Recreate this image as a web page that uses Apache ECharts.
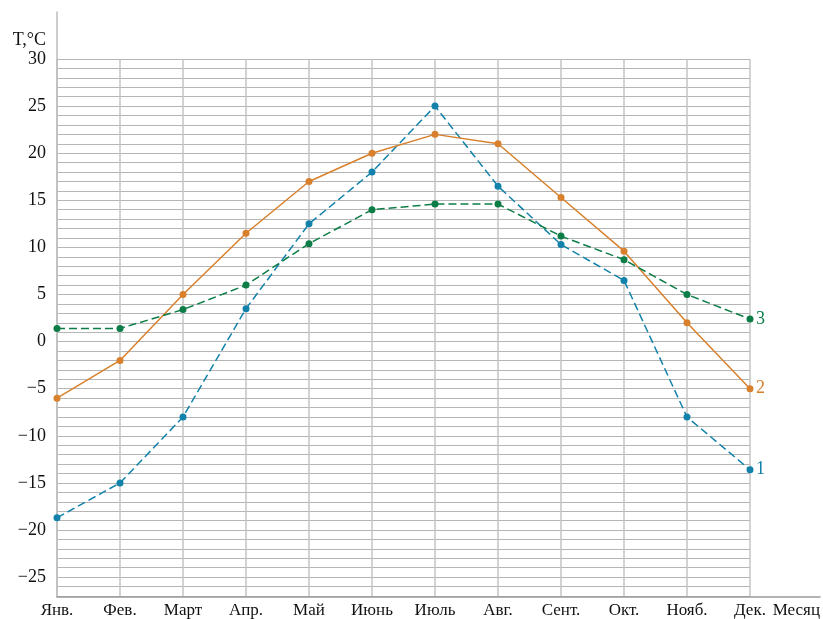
<!DOCTYPE html>
<html>
<head>
<meta charset="utf-8">
<script src="https://cdn.jsdelivr.net/npm/echarts@6/dist/echarts.min.js"></script>
<style>
  html, body { margin: 0; padding: 0; background: #fff; }
  #chart { width: 823px; height: 619px; }
</style>
</head>
<body>
<div id="chart"></div>
<script>
const months = ['Янв.', 'Фев.', 'Март', 'Апр.', 'Май', 'Июнь', 'Июль', 'Авг.', 'Сент.', 'Окт.', 'Нояб.', 'Дек.']
const series1 = [-18.7, -15, -8, 3.5, 12.5, 18, 25, 16.5, 10.3, 6.5, -8, -13.6]
const series2 = [-6, -2, 5, 11.5, 17, 20, 22, 21, 15.3, 9.6, 2, -5]
const series3 = [1.4, 1.4, 3.4, 6, 10.4, 14, 14.6, 14.6, 11.2, 8.7, 5, 2.4]
const seriesNames = ['1', '2', '3']
const yMin = -27
const yMax = 30

const font = 'Liberation Serif'
const gridColor = '#b5b5b5'

const chart = echarts.init(document.getElementById('chart'))

const makeLine = (name, data, color, dashed) => ({
  name,
  type: 'line',
  xAxisIndex: 0,
  yAxisIndex: 0,
  data: data.map((v, i) => [i, v]),
  symbol: 'circle',
  symbolSize: 7,
  itemStyle: { color },
  lineStyle: { color, width: 1.5, type: dashed ? [8, 4] : 'solid' },
  endLabel: {
    show: true,
    formatter: name,
    color,
    fontFamily: font,
    fontSize: 18,
    distance: 6,
    padding: [4, 0, 0, 0]
  },
  animation: false,
  z: 5
})

const option = {
  backgroundColor: '#fff',
  textStyle: { fontFamily: font },
  grid: [
    { left: 57, right: 73, top: 59, bottom: 19 },
    { left: 57, right: 1, top: 12, bottom: 19 }
  ],
  xAxis: [
    {
      gridIndex: 0,
      type: 'value',
      min: 0,
      max: 11,
      interval: 1,
      axisLine: { show: false },
      axisTick: { show: false },
      axisLabel: {
        formatter: (v) => months[v] || '',
        fontFamily: font,
        fontSize: 17,
        color: '#111',
        margin: 6,
        showMaxLabel: true,
        showMinLabel: true
      },
      splitLine: { show: true, lineStyle: { color: '#c4c4c4', width: 1.5 } }
    },
    {
      gridIndex: 1,
      type: 'value',
      min: 0,
      max: 1,
      axisLine: { show: true, lineStyle: { color: '#9a9a9a', width: 1.5 } },
      axisTick: { show: false },
      axisLabel: { show: false },
      splitLine: { show: false },
      name: 'Месяц',
      nameLocation: 'end',
      nameGap: 0,
      nameTextStyle: {
        fontFamily: font,
        fontSize: 17,
        color: '#111',
        align: 'right',
        verticalAlign: 'top',
        padding: [5, 0, 0, 0]
      }
    }
  ],
  yAxis: [
    {
      gridIndex: 0,
      type: 'value',
      min: yMin,
      max: yMax,
      interval: 1,
      axisLine: { show: false },
      axisTick: { show: false },
      axisLabel: {
        formatter: (v) => (v % 5 === 0 ? String(v).replace('-', '−') : ''),
        fontFamily: font,
        fontSize: 18,
        color: '#111',
        margin: 11,
        padding: [5, 0, 0, 0]
      },
      splitLine: { show: true, lineStyle: { color: gridColor, width: 1.2 } },
      name: 'T,°C',
      nameLocation: 'end',
      nameGap: 10,
      nameTextStyle: {
        fontFamily: font,
        fontSize: 18,
        color: '#111',
        align: 'right',
        padding: [0, 11, 0, 0]
      }
    },
    {
      gridIndex: 1,
      type: 'value',
      min: 0,
      max: 1,
      axisLine: { show: true, lineStyle: { color: '#bdbdbd', width: 1.5 } },
      axisTick: { show: false },
      axisLabel: { show: false },
      splitLine: { show: false }
    }
  ],
  series: [
    makeLine(seriesNames[0], series1, '#1282aa', true),
    makeLine(seriesNames[1], series2, '#d8802c', false),
    makeLine(seriesNames[2], series3, '#0c7d47', true)
  ]
}

chart.setOption(option)
</script>
</body>
</html>
